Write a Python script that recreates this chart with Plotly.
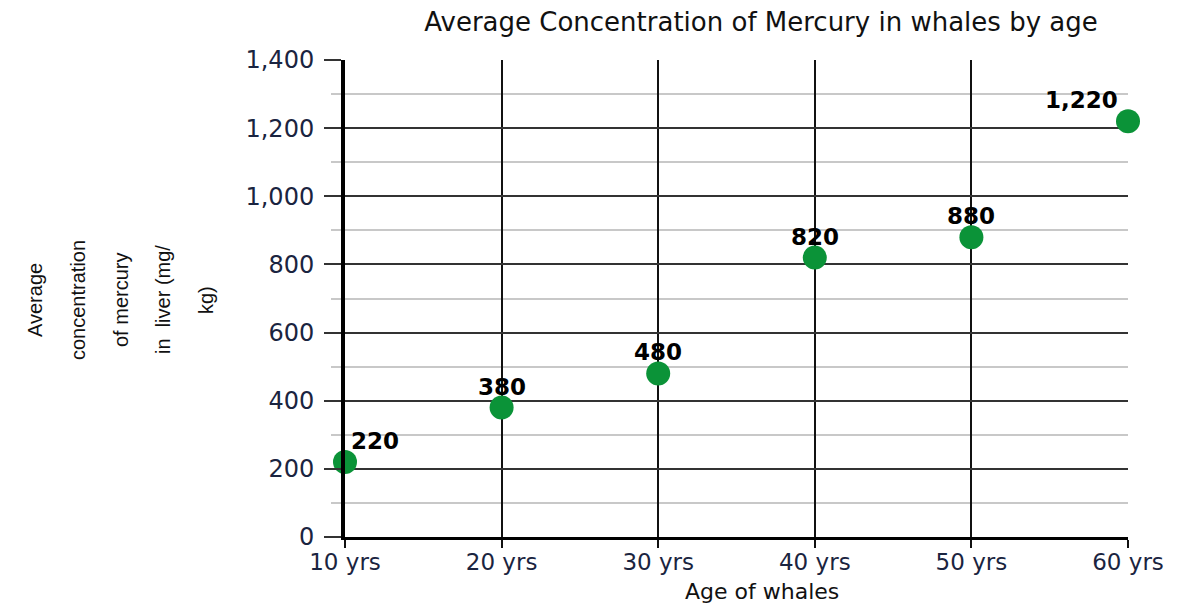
import plotly.graph_objects as go

ages = [10, 20, 30, 40, 50, 60]
age_labels = ["10 yrs", "20 yrs", "30 yrs", "40 yrs", "50 yrs", "60 yrs"]
mercury = [220, 380, 480, 820, 880, 1220]
value_labels = ["220", "380", "480", "820", "880", "1,220"]
label_anchor = ["left", "center", "center", "center", "center", "right"]
label_xshift = [4, 0, 0, 0, 0, -8]
y_ticks = [0, 200, 400, 600, 800, 1000, 1200, 1400]
y_tick_labels = ["0", "200", "400", "600", "800", "1,000", "1,200", "1,400"]
y_title_lines = ["Average", "concentration", "of mercury", "in  liver (mg/", "kg)"]

FONT = "DejaVu Sans"
TICK_COLOR = "#1a2440"

# page body has an 8px margin, so figure is offset by (8, 8) in the window
W, H = 1175, 596
L, R, T, B = 337, 55, 52, 67
PW = W - L - R
PH = H - T - B

fig = go.Figure()
fig.add_trace(go.Scatter(
    x=ages, y=mercury, mode="markers",
    marker=dict(size=24, color="#0b9338"),
    cliponaxis=False, showlegend=False,
))

for a, v, t, anc, xs in zip(ages, mercury, value_labels, label_anchor, label_xshift):
    fig.add_annotation(x=a, y=v, text=t, showarrow=False, xanchor=anc,
                       yanchor="middle", xshift=xs, yshift=21,
                       font=dict(family=FONT, size=23, color="black", weight="bold"))

fig.update_layout(
    width=W, height=H,
    margin=dict(l=L, r=R, t=T, b=B),
    paper_bgcolor="white", plot_bgcolor="white",
    title=dict(text="Average Concentration of Mercury in whales by age",
               x=(761 - 8) / W, xref="container", xanchor="center",
               y=1 - (22 - 8) / H, yref="container", yanchor="middle",
               font=dict(family=FONT, size=26, color="#111")),
    xaxis=dict(
        range=[10, 60], tickvals=ages, ticktext=age_labels,
        showgrid=True, gridcolor="#111", gridwidth=2,
        showline=True, linecolor="black", linewidth=3,
        ticks="outside", ticklen=8, tickwidth=2, tickcolor="#111",
        ticklabelstandoff=-6,
        tickfont=dict(family=FONT, size=23, color=TICK_COLOR),
        zeroline=False,
    ),
    yaxis=dict(
        range=[0, 1400], tickvals=y_ticks, ticktext=y_tick_labels,
        showgrid=True, gridcolor="#333", gridwidth=1.5,
        showline=True, linecolor="black", linewidth=4,
        ticks="outside", ticklen=17, tickwidth=1.5, tickcolor="#333",
        ticklabelstandoff=5,
        tickfont=dict(family=FONT, size=24, color=TICK_COLOR),
        zeroline=False,
        minor=dict(dtick=100, showgrid=True, gridcolor="#c8c8c8", gridwidth=1.5,
                   ticks="outside", ticklen=10, tickcolor="#c8c8c8", tickwidth=1.5),
    ),
)

fig.add_annotation(text="Age of whales", xref="paper", yref="paper",
                   x=(762 - 8 - L) / PW, y=(H - B - (591 - 8)) / PH, yanchor="middle",
                   showarrow=False, font=dict(family=FONT, size=22, color="#111"))

line_x = [22, 65, 108, 150, 193]
for txt, px in zip(y_title_lines, line_x):
    fig.add_annotation(text=txt, xref="paper", yref="paper",
                       x=(px - 8 - L) / PW, y=(H - B - (300 - 8)) / PH,
                       textangle=-90, showarrow=False, yanchor="middle",
                       font=dict(family="Liberation Sans", size=20, color="#111"))

fig.write_html("out.html")
